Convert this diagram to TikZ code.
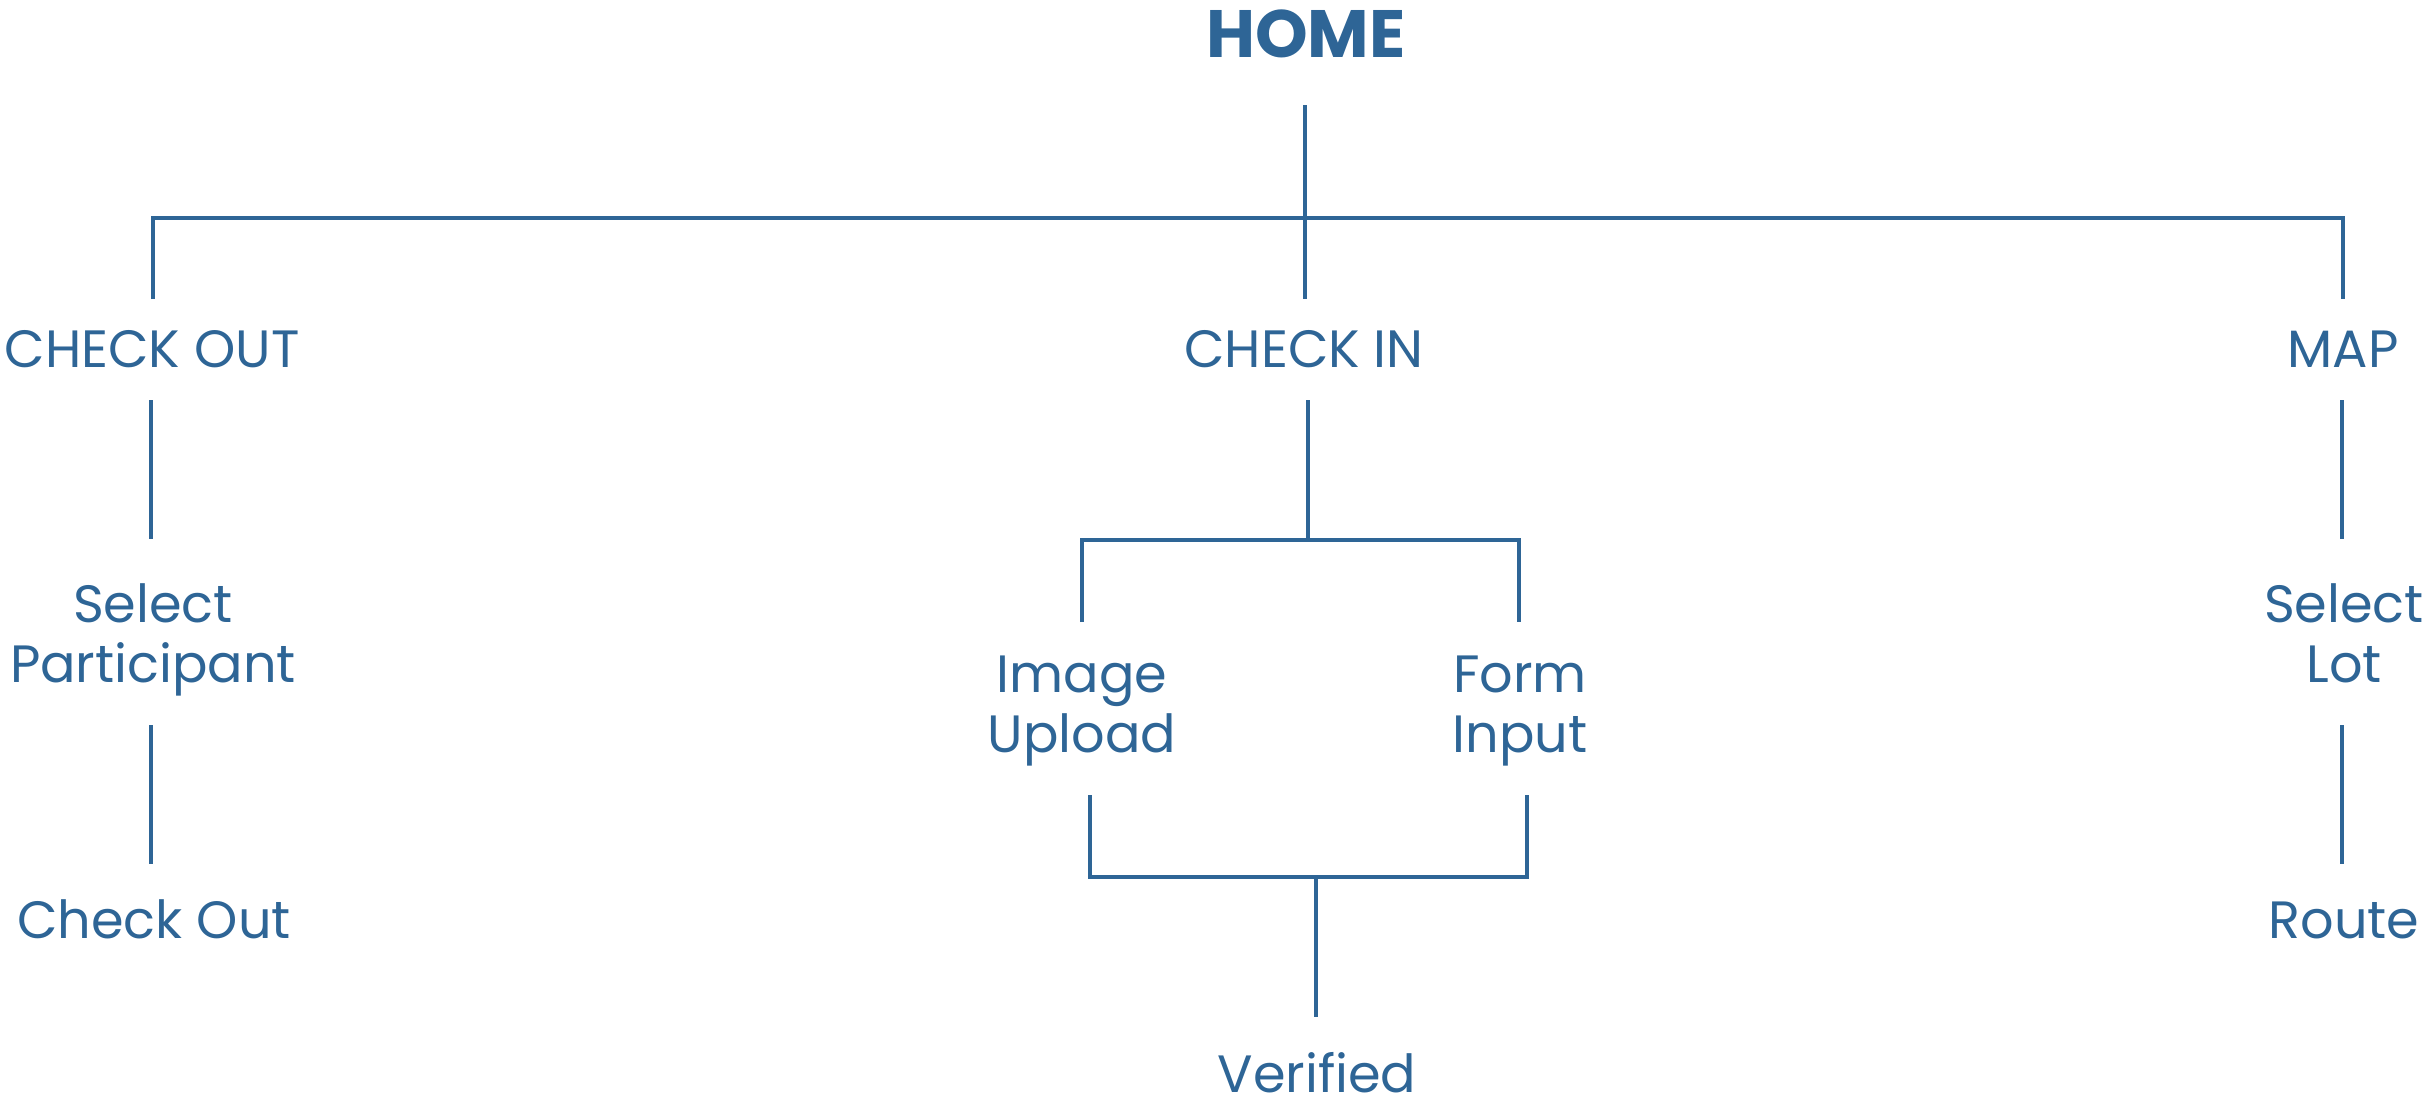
\documentclass[tikz,border=0pt]{standalone}
\usepackage{fontspec}
\setmainfont{Poppins}
\definecolor{navy}{HTML}{2E6596}
\begin{document}
\begin{tikzpicture}[x=1pt,y=-1pt,
  lbl/.style={text=navy, inner sep=0pt, anchor=base, align=center, font=\fontsize{52.5}{59.5}\selectfont},
  title/.style={text=navy, inner sep=0pt, anchor=base, font=\bfseries\fontsize{67}{70}\selectfont},
  conn/.style={draw=navy, line width=4pt, line join=miter}]
\useasboundingbox (0,0) rectangle (2428,1106);
% nodes (anchor = baseline of last line)
\node[title] (home) at (1306,57) {HOME};
\node[lbl] (cko) at (152,367) {CHECK OUT};
\node[lbl] (cki) at (1304,367) {CHECK IN};
\node[lbl] (map) at (2343,367) {MAP};
\node[lbl] (selp) at (153,682) {Select\\Participant};
\node[lbl] (img) at (1082,752) {Image\\Upload};
\node[lbl] (frm) at (1520,752) {Form\\Input};
\node[lbl] (sell) at (2344,682) {Select\\Lot};
\node[lbl] (chk) at (154,938) {Check Out};
\node[lbl] (ver) at (1317,1092) {Verified};
\node[lbl] (rte) at (2344,938) {Route};
% connector end points
\coordinate (homeB) at (1305,105);
\coordinate (ckoT) at (153,299);
\coordinate (ckiT) at (1305,299);
\coordinate (mapT) at (2343,299);
\coordinate (busA) at (0,218);
\coordinate (ckoB) at (151,400);
\coordinate (selpT) at (151,539);
\coordinate (ckiB) at (1308,400);
\coordinate (busB) at (0,540);
\coordinate (imgT) at (1082,622);
\coordinate (frmT) at (1519,622);
\coordinate (mapB) at (2342,400);
\coordinate (sellT) at (2342,539);
\coordinate (selpB) at (151,725);
\coordinate (chkT) at (151,864);
\coordinate (sellB) at (2342,725);
\coordinate (rteT) at (2342,864);
\coordinate (imgB) at (1090,795);
\coordinate (frmB) at (1527,795);
\coordinate (busC) at (0,877);
\coordinate (verT) at (1316,1017);
% connectors
\draw[conn] (homeB) -- (ckiT);
\draw[conn] (ckoT) -- (ckoT |- busA) -- (mapT |- busA) -- (mapT);
\draw[conn] (ckoB) -- (selpT);
\draw[conn] (selpB) -- (chkT);
\draw[conn] (ckiB) -- (ckiB |- busB);
\draw[conn] (imgT) -- (imgT |- busB) -- (frmT |- busB) -- (frmT);
\draw[conn] (imgB) -- (imgB |- busC) -- (frmB |- busC) -- (frmB);
\draw[conn] (verT |- busC) -- (verT);
\draw[conn] (mapB) -- (sellT);
\draw[conn] (sellB) -- (rteT);
\end{tikzpicture}
\end{document}
